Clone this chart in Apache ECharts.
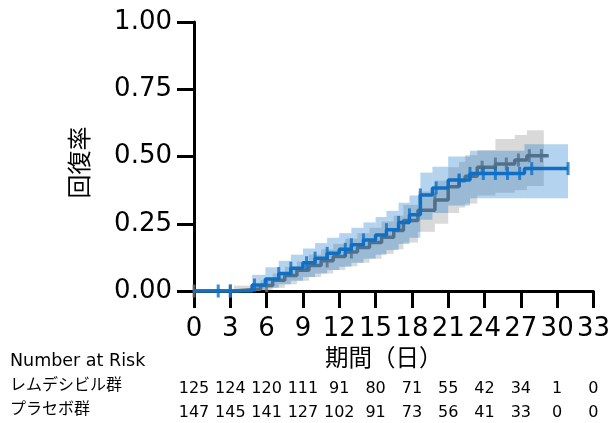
<!DOCTYPE html>
<html>
<head>
<meta charset="utf-8">
<script src="https://cdn.jsdelivr.net/npm/echarts@6/dist/echarts.min.js"></script>
<style>html,body{margin:0;padding:0;background:#fff}#c{width:613px;height:423px}</style>
</head>
<body>
<div id="c"></div>
<script>
// ---- data ----
const xTicks = [0,3,6,9,12,15,18,21,24,27,30,33];
const blueName = 'レムデシビル群';
const grayName = 'プラセボ群';
const blueRisk = [125,124,120,111,91,80,71,55,42,34,1,0];
const grayRisk = [147,145,141,127,102,91,73,56,41,33,0,0];

const blueT  = [0, 4.8, 5.9, 7, 8, 9, 10, 11, 12, 13, 14, 15, 15.9, 16.9, 17.8, 18.7, 19.7, 21, 22.8, 27.3];
const blueV  = [0, .022, .045, .065, .085, .105, .122, .14, .155, .172, .19, .208, .228, .255, .283, .357, .383, .413, .437, .455];
const blueLo = [0, .002, .012, .025, .038, .052, .065, .078, .09, .105, .12, .135, .152, .175, .198, .265, .29, .318, .345, .345];
const blueHi = [0, .06, .088, .112, .135, .158, .178, .198, .215, .235, .255, .275, .298, .328, .355, .44, .462, .5, .521, .546];
const blueEnd = 30.9;
const blueCens = [2, 3, 5, 7, 8, 9.3, 10, 11, 12.5, 13, 14, 15.9, 16.9, 17.8, 18.7, 20, 21.9, 22.8, 23.9, 24.9, 25.9, 26.9, 27.9, 30.9];

const grayT  = [0, 3.3, 5.5, 6.5, 7.5, 8.5, 9.5, 10.5, 11.5, 12.5, 13.5, 14.5, 15.5, 16.5, 17.3, 18.5, 19.9, 21, 21.9, 22.4, 23.4, 24.9, 26.5, 27.5];
const grayV  = [0, .007, .02, .04, .058, .077, .095, .112, .128, .145, .162, .18, .2, .225, .262, .30, .338, .388, .41, .427, .46, .472, .487, .503];
const grayLo = [0, 0, .003, .012, .025, .038, .052, .065, .078, .092, .105, .12, .138, .155, .18, .22, .25, .29, .31, .325, .355, .365, .375, .39];
const grayHi = [0, .02, .04, .065, .09, .11, .135, .155, .175, .195, .215, .235, .258, .28, .32, .37, .41, .46, .48, .505, .524, .565, .58, .598];
const grayEnd = 29.3;
const grayCiEnd = 28.9;
const grayCens = [0, 3, 6, 11, 13, 19.9, 21.9, 23.8, 24.9, 25.8, 26.8, 27.7, 28.7];

// ---- helpers ----
function stepLine(T, V, end) {
  const d = T.map((t, i) => [t, V[i]]);
  d.push([end, V[V.length - 1]]);
  return d;
}
function bands(T, Lo, Hi, end) {
  return T.map((t, i) => [t, i + 1 < T.length ? T[i + 1] : end, Lo[i], Hi[i]]);
}
function valueAt(T, V, t) {
  let v = V[0];
  for (let i = 0; i < T.length; i++) if (T[i] <= t + 1e-9) v = V[i];
  return v;
}
function cens(T, V, C) { return C.map(t => [t, valueAt(T, V, t)]); }

const BLUE = '#0f6fc4';
const GRAY = '#707070';
const FONT = '"DejaVu Sans", "Noto Sans CJK JP", sans-serif';

function bandSeries(data, color, z) {
  return {
    type: 'custom', z: z, silent: true,
    renderItem: function (params, api) {
      const p0 = api.coord([api.value(0), api.value(3)]);
      const p1 = api.coord([api.value(1), api.value(2)]);
      return { type: 'rect', shape: { x: p0[0], y: p0[1], width: p1[0] - p0[0], height: p1[1] - p0[1] },
               style: { fill: color } };
    },
    encode: { x: [0, 1], y: [2, 3] },
    data: data
  };
}

const chart = echarts.init(document.getElementById('c'), null, { renderer: 'canvas' });
const riskAxis = (arr, offset) => ({
  type: 'value', min: 0, max: 33, interval: 3, position: 'bottom', offset: offset,
  axisLine: { show: false }, axisTick: { show: false }, splitLine: { show: false },
  axisLabel: { margin: 0, verticalAlign: 'middle', fontSize: 16, color: '#000', fontFamily: FONT,
               formatter: v => { const i = xTicks.indexOf(v); return i >= 0 ? String(arr[i]) : ''; } }
});

chart.setOption({
  animation: false,
  backgroundColor: '#fff',
  grid: { left: 194, top: 22, right: 16, bottom: 132, containLabel: false },
  xAxis: [
    {
      type: 'value', min: 0, max: 33, interval: 3,
      name: '期間（日）', nameLocation: 'middle', nameGap: 57,
      nameTextStyle: { fontSize: 23.5, color: '#000', fontFamily: FONT, padding: [0, 20, 0, 0] },
      axisLine: { show: true, lineStyle: { color: '#000', width: 3 } },
      axisTick: { show: true, inside: false, length: 17, lineStyle: { color: '#000', width: 3 } },
      axisLabel: { margin: 25, fontSize: 26, color: '#000', fontFamily: FONT },
      splitLine: { show: false }
    },
    riskAxis(blueRisk, 98),
    riskAxis(grayRisk, 122)
  ],
  yAxis: {
    type: 'value', min: 0, max: 1, interval: 0.25,
    name: '回復率', nameLocation: 'middle', nameGap: 100, nameRotate: 90,
    nameTextStyle: { fontSize: 24, color: '#000', fontFamily: FONT, padding: [0, 12, 0, 0] },
    axisLine: { show: true, lineStyle: { color: '#000', width: 3 } },
    axisTick: { show: true, inside: false, length: 17, lineStyle: { color: '#000', width: 3 } },
    axisLabel: { margin: 22, fontSize: 26, color: '#000', fontFamily: FONT, formatter: v => v.toFixed(2) },
    splitLine: { show: false }
  },
  graphic: [
    { type: 'text', left: 10, top: 353, style: { text: 'Number at Risk', fontSize: 17.5, fill: '#000', fontFamily: FONT } },
    { type: 'text', left: 10, top: 378, style: { text: blueName, fontSize: 16, fill: '#000', fontFamily: FONT } },
    { type: 'text', left: 10, top: 402, style: { text: grayName, fontSize: 16, fill: '#000', fontFamily: FONT } }
  ],
  series: [
    bandSeries(bands(grayT, grayLo, grayHi, grayCiEnd), 'rgba(128,128,128,0.3)', 1),
    { type: 'line', z: 2, step: 'end', showSymbol: false, silent: true,
      lineStyle: { color: GRAY, width: 3.5 }, data: stepLine(grayT, grayV, grayEnd) },
    { type: 'scatter', z: 2, silent: true, symbol: 'rect', symbolSize: [3, 13],
      itemStyle: { color: GRAY }, data: cens(grayT, grayV, grayCens) },
    bandSeries(bands(blueT, blueLo, blueHi, blueEnd), 'rgba(10,113,200,0.31)', 3),
    { type: 'line', z: 4, step: 'end', showSymbol: false, silent: true,
      lineStyle: { color: BLUE, width: 3.5 }, data: stepLine(blueT, blueV, blueEnd) },
    { type: 'scatter', z: 4, silent: true, symbol: 'rect', symbolSize: [3, 13],
      itemStyle: { color: BLUE }, data: cens(blueT, blueV, blueCens) }
  ]
});
</script>
</body>
</html>
